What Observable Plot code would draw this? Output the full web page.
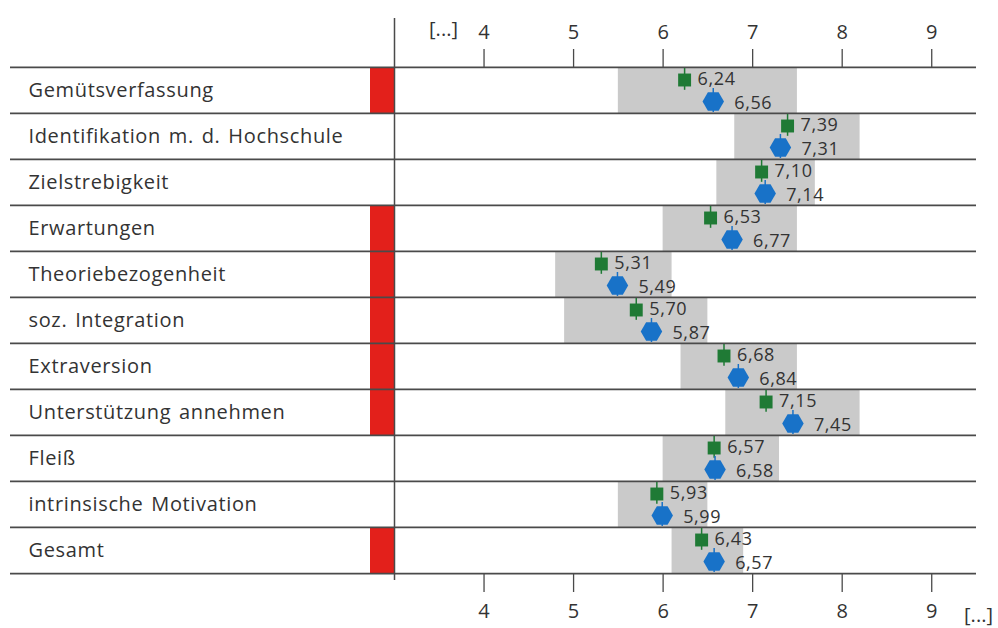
<!DOCTYPE html>
<html>
<head>
<meta charset="utf-8">
<script src="https://cdn.jsdelivr.net/npm/d3@7"></script>
<script src="https://cdn.jsdelivr.net/npm/@observablehq/plot@0.6"></script>
<style>
  html, body { margin: 0; padding: 0; background: #ffffff; }
  #chart svg { display: block; }
  .catlabel text { word-spacing: 2px; letter-spacing: 0.65px; }
  .vallabel text { letter-spacing: 0.6px; }
</style>
</head>
<body>
<div id="chart"></div>
<script>
const categories = [
  "Gemütsverfassung",
  "Identifikation m. d. Hochschule",
  "Zielstrebigkeit",
  "Erwartungen",
  "Theoriebezogenheit",
  "soz. Integration",
  "Extraversion",
  "Unterstützung annehmen",
  "Fleiß",
  "intrinsische Motivation",
  "Gesamt"
];
const greenValues = [6.24, 7.39, 7.10, 6.53, 5.31, 5.70, 6.68, 7.15, 6.57, 5.93, 6.43];
const blueValues  = [6.56, 7.31, 7.14, 6.77, 5.49, 5.87, 6.84, 7.45, 6.58, 5.99, 6.57];
const rangeLow    = [5.5, 6.8, 6.6, 6.0, 4.8, 4.9, 6.2, 6.7, 6.0, 5.5, 6.1];
const rangeHigh   = [7.5, 8.2, 7.7, 7.5, 6.1, 6.5, 7.5, 8.2, 7.3, 6.5, 6.9];
const flagged     = [true, false, false, true, true, true, true, true, false, false, true];
const xTicks = [4, 5, 6, 7, 8, 9];
const ellipsisLabel = "[...]";
const xDomain = [3, 9.5];

const rows = categories.map((c, i) => ({
  cat: c, green: greenValues[i], blue: blueValues[i],
  lo: rangeLow[i], hi: rangeHigh[i], flag: flagged[i]
}));

const W = 998, H = 628;
const mt = 66, mb = 54, ml = 394, mr = 22;
const band = (H - mt - mb) / categories.length;
const fmt = v => v.toFixed(2).replace(".", ",");
const FONT = "Open Sans";
const FS = 19;
const TXT = "#333333";
const LINE = "#4a4a4a";
const GREEN = "#1f7a35";
const BLUE = "#1872c8";

const chart = Plot.plot({
  width: W, height: H,
  marginTop: mt, marginBottom: mb, marginLeft: ml, marginRight: mr,
  style: { fontFamily: FONT, fontSize: FS + "px", color: TXT, background: "#ffffff" },
  x: { domain: xDomain, axis: null },
  y: { domain: categories, padding: 0, axis: null },
  marks: [
    // grey ranges
    Plot.barX(rows, { x1: "lo", x2: "hi", y: "cat", fill: "#cacaca" }),
    // red flags left of the axis
    Plot.barX(rows.filter(d => d.flag), { x1: () => xDomain[0], x2: () => xDomain[0], y: "cat", insetLeft: -24, fill: "#e3201b" }),
    // row separators
    Plot.ruleY(categories, { y: d => d, dy: -band / 2, insetLeft: -(ml - 10), stroke: LINE, strokeWidth: 1.8 }),
    Plot.ruleY(categories.slice(-1), { y: d => d, dy: band / 2, insetLeft: -(ml - 10), stroke: LINE, strokeWidth: 1.8 }),
    // vertical axis line
    Plot.ruleX([xDomain[0]], { insetTop: -48, insetBottom: -6, stroke: LINE, strokeWidth: 1.5 }),
    // axes
    Plot.axisX(xTicks, { anchor: "top", tickSize: 18, tickPadding: 10, fontSize: 20, stroke: LINE, strokeWidth: 1.3, fill: TXT }),
    Plot.axisX(xTicks, { anchor: "bottom", tickSize: 18, tickPadding: 11, fontSize: 20, stroke: LINE, strokeWidth: 1.3, fill: TXT }),
    Plot.text([ellipsisLabel], { frameAnchor: "top-left", dx: 49, dy: -37, fontSize: 20, fill: TXT, textAnchor: "middle", lineAnchor: "middle" }),
    Plot.text([ellipsisLabel], { frameAnchor: "bottom-right", dx: 2, dy: 41, fontSize: 20, fill: TXT, textAnchor: "middle", lineAnchor: "middle" }),
    // category labels
    Plot.text(rows, { y: "cat", text: "cat", frameAnchor: "left", dx: -(ml - 28), textAnchor: "start", fontSize: 20, fill: TXT, className: "catlabel" }),
    // green markers
    Plot.tickX(rows, { x: "green", y: "cat", insetTop: 1, insetBottom: band - 23, stroke: GREEN, strokeWidth: 1.5 }),
    Plot.dot(rows, { x: "green", y: "cat", dy: -10.5, symbol: "square", r: 7.3, fill: GREEN }),
    Plot.text(rows, { x: "green", y: "cat", dy: -11, dx: 13, text: d => fmt(d.green), textAnchor: "start", fontSize: 18, fill: TXT, className: "vallabel" }),
    // blue markers
    Plot.tickX(rows, { x: "blue", y: "cat", insetTop: 21, insetBottom: 1, stroke: BLUE, strokeWidth: 1.5 }),
    Plot.dot(rows, { x: "blue", y: "cat", dy: 11, symbol: "hexagon", r: 9.3, rotate: 30, fill: BLUE }),
    Plot.text(rows, { x: "blue", y: "cat", dy: 12.5, dx: 21, text: d => fmt(d.blue), textAnchor: "start", fontSize: 18, fill: TXT, className: "vallabel" })
  ]
});
document.getElementById("chart").appendChild(chart);
</script>
</body>
</html>
